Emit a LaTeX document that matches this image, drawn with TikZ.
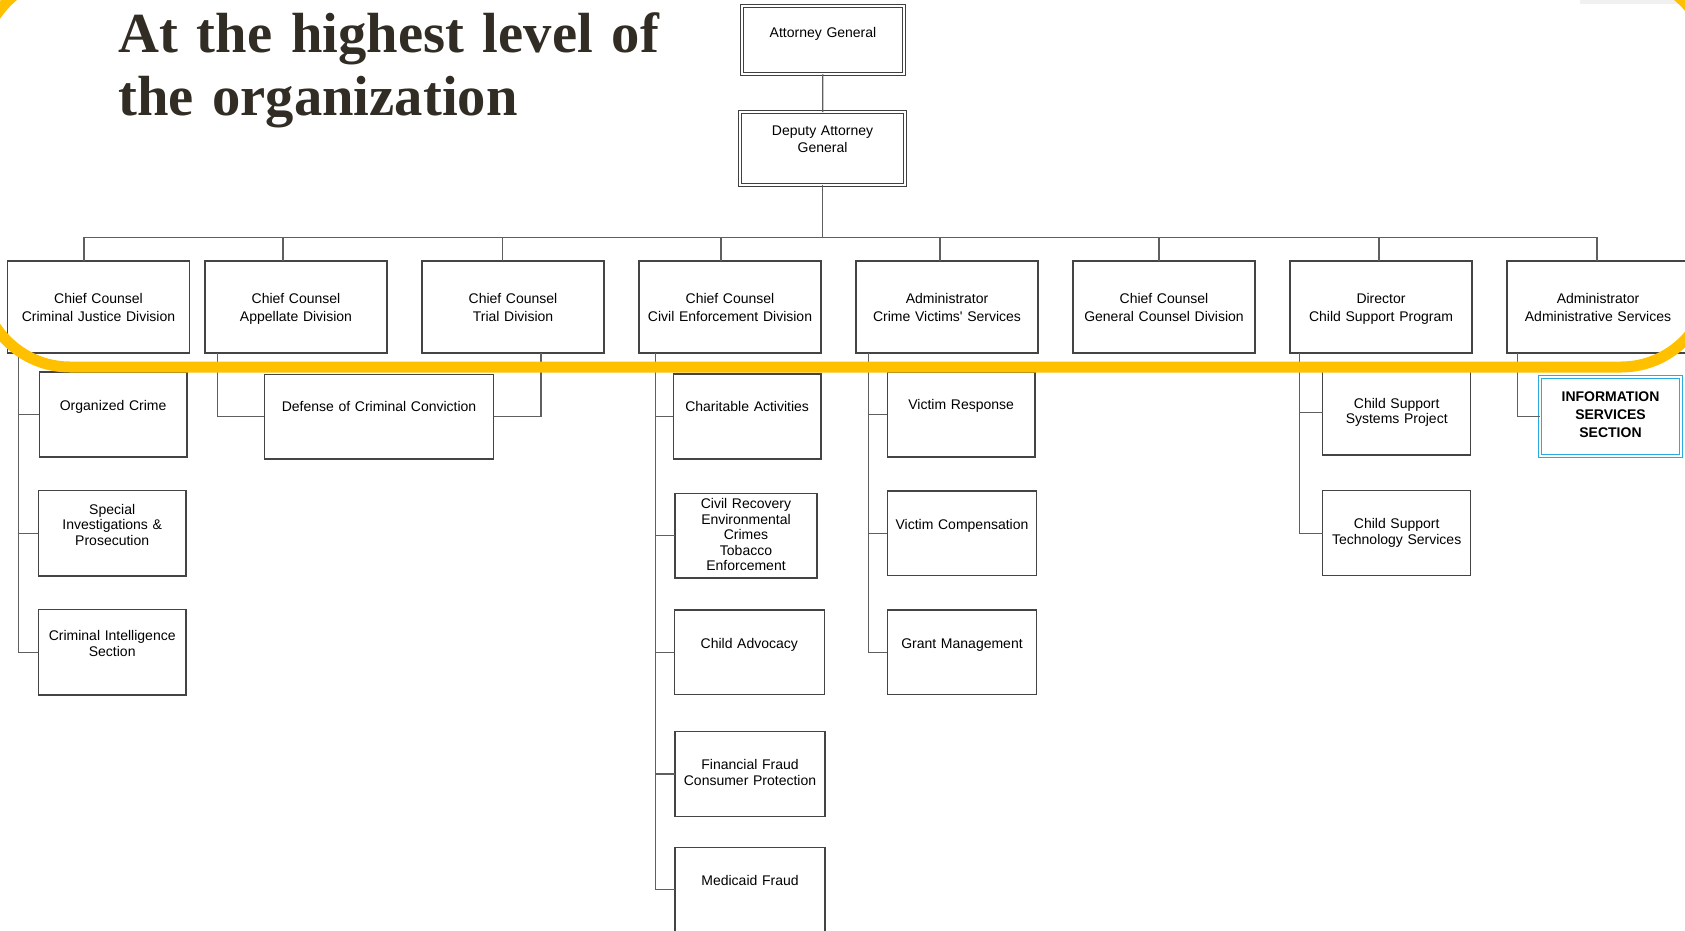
\documentclass[tikz,border=0pt]{standalone}
\usepackage{fontspec}
\usepackage{tikz}
\usetikzlibrary{positioning}
\newfontfamily\titlefont{Liberation Serif}
\newfontfamily\unitfont{Liberation Sans}
\newcommand{\titlestyle}{\titlefont\bfseries\fontsize{56.6}{62.5}\selectfont\fontdimen2\font=0.17em\relax}
\definecolor{titleink}{RGB}{50,45,36}
\definecolor{boxgray}{RGB}{68,68,68}
\definecolor{linkgray}{RGB}{95,95,95}
\definecolor{hiyellow}{RGB}{255,192,0}
\definecolor{isblue}{RGB}{41,171,226}
\tikzset{
  unitbox/.style n args={3}{draw=boxgray, fill=white, line width=1.2pt, inner sep=0pt, outer sep=0pt, align=center,
    text width=#1pt, text height=#2pt, text depth=#3pt, font=\unitfont\fontsize{14}{15.5}\selectfont},
  headbox/.style={unitbox={182}{42}{50}, font=\unitfont\fontsize{14}{18.3}\selectfont},
  chiefbox/.style n args={3}{unitbox={#1}{#2}{#3}, line width=0.9pt, double=white, double distance=2pt, draw=black!75,
    font=\unitfont\fontsize{14}{17.7}\selectfont},
  focusbox/.style n args={3}{unitbox={#1}{#2}{#3}, line width=1pt, double=white, double distance=1.8pt, draw=isblue,
    font=\unitfont\bfseries\fontsize{14}{18}\selectfont},
  link/.style={draw=linkgray, line width=1.2pt},
  hilite/.style={draw=hiyellow, line width=11pt, rounded corners=89pt},
}

\begin{document}
\begin{tikzpicture}[x=1pt, y=-1pt, node distance=35pt]
  \useasboundingbox (0,0) rectangle (1685,930);
  \fill[black!6] (1580,0) rectangle (1685,3.5);

  % title
  \node[anchor=north west, inner sep=0pt, text width=700pt, align=left, text height=45pt, text=titleink,
    font=\titlestyle] (title) at (118,7.5) {At the highest level of\\the organization};

  % top of the chart
  \node[chiefbox={162}{31}{37}, anchor=north west] (ag) at (742,6) {Attorney General};
  \node[chiefbox={165}{23}{49.7}, anchor=north west] (dag) at (740,112) {Deputy Attorney\\General};

  % divisions
  \node[headbox, anchor=north west] (cjd) at (7.5,261) {Chief Counsel\\Criminal Justice Division};
  \node[headbox, right=15.5pt of cjd] (app) {Chief Counsel\\Appellate Division};
  \node[headbox, right=of app] (trial) {Chief Counsel\\Trial Division};
  \node[headbox, right=of trial] (civil) {Chief Counsel\\Civil Enforcement Division};
  \node[headbox, right=of civil] (victims) {Administrator\\Crime Victims' Services};
  \node[headbox, right=of victims] (gcd) {Chief Counsel\\General Counsel Division};
  \node[headbox, right=of gcd] (csp) {Director\\Child Support Program};
  \node[headbox, right=of csp] (admin) {Administrator\\Administrative Services};

  % sections under the divisions
  \node[unitbox={147.7}{38}{47}, anchor=north west] (orgcrime) at (39.3,372) {Organized Crime};
  \node[unitbox={147.6}{23.3}{62}, anchor=north west] (specinv) at (38.4,490.7) {Special\\Investigations \&\\Prosecution};
  \node[unitbox={147.6}{31}{54.3}, anchor=north west] (crimintel) at (38.4,609.7) {Criminal Intelligence\\Section};
  \node[unitbox={229.5}{37.2}{47.5}, anchor=north west] (defense) at (264.3,374.3) {Defense of Criminal Conviction};
  \node[unitbox={147.7}{37}{48}, anchor=north west] (charity) at (673.3,374) {Charitable Activities};
  \node[unitbox={142}{15}{69.5}, anchor=north west] (civrec) at (675,493.5) {Civil Recovery\\Environmental\\Crimes\\Tobacco\\Enforcement};
  \node[unitbox={150}{38.5}{46}, anchor=north west] (childadv) at (674.3,610) {Child Advocacy};
  \node[unitbox={150}{38}{46.8}, anchor=north west] (finfraud) at (675,731.6) {Financial Fraud\\Consumer Protection};
  \node[unitbox={150}{37.7}{47.3}, anchor=north west] (medicaid) at (675,847.3) {Medicaid Fraud};
  \node[unitbox={147.7}{37.5}{47.5}, anchor=north west] (vresp) at (887.3,372) {Victim Response};
  \node[unitbox={149.4}{38.3}{46.3}, anchor=north west] (vcomp) at (887.3,491) {Victim Compensation};
  \node[unitbox={149.4}{38.5}{46}, anchor=north west] (grants) at (887.3,610) {Grant Management};
  \node[unitbox={148}{38}{47}, anchor=north west] (cssys) at (1322.7,370) {Child Support\\Systems Project};
  \node[unitbox={148}{38}{47}, anchor=north west] (cstech) at (1322.7,490.7) {Child Support\\Technology Services};
  \node[focusbox={141.6}{24.5}{54.8}, anchor=north west] (iss) at (1539.7,377) {INFORMATION\\SERVICES\\SECTION};

  % connectors
  \draw[link] (ag) -- (dag);
  \coordinate (bar) at (0,237.5);
  \draw[link] (dag) -- (dag |- bar);
  \foreach \dept/\dx in {cjd/-14.5pt,app/-13pt,trial/-10.5pt,civil/-9pt,victims/-7pt,gcd/-5pt,csp/-2pt,admin/-1pt}
    \draw[link] ([xshift=\dx]\dept.north) |- (dag |- bar);
  \foreach \kid in {orgcrime,specinv,crimintel}
    \draw[link] ([xshift=11.3pt]cjd.south west) |- (\kid.west);
  \draw[link] ([xshift=12.4pt]app.south west) |- (defense.west);
  \draw[link] ([xshift=-63pt]trial.south east) |- (defense.east);
  \foreach \kid in {charity,civrec,childadv,finfraud,medicaid}
    \draw[link] ([xshift=16.5pt]civil.south west) |- (\kid.west);
  \foreach \kid in {vresp,vcomp,grants}
    \draw[link] ([xshift=12.5pt]victims.south west) |- (\kid.west);
  \foreach \kid in {cssys,cstech}
    \draw[link] ([xshift=9.5pt]csp.south west) |- (\kid.west);
  \draw[link] ([xshift=10.5pt]admin.south west) |- (iss.west);

  % highlight round the top level
  \draw[hilite] (-19,150) -- (-19,367) -- (1710,367) -- (1710,150);
  \draw[hilite] (-19,150) -- (-19,-24.5) -- (1710,-24.5) -- (1710,150);
\end{tikzpicture}
\end{document}
